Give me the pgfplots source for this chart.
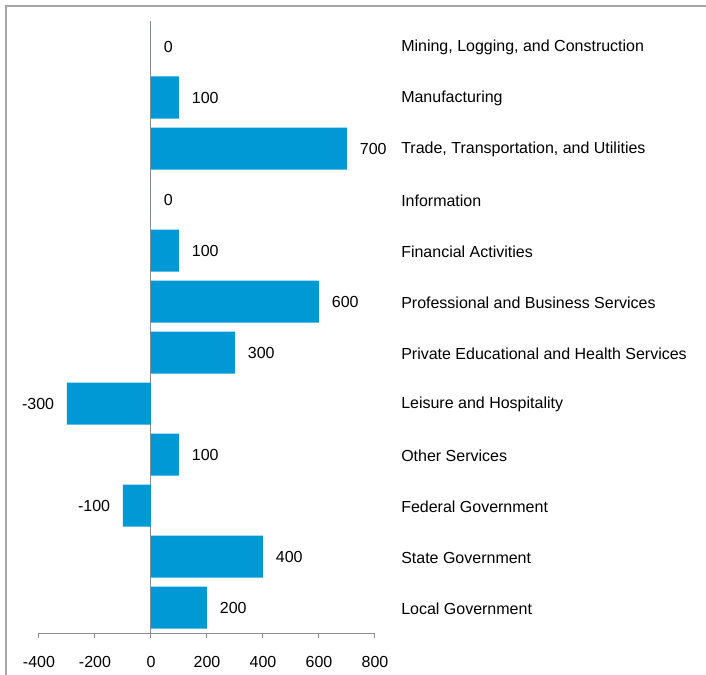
\documentclass[border=0pt]{standalone}
\usepackage{fontspec}
\setmainfont{Liberation Sans}
\usepackage{pgfplots}
\pgfplotsset{compat=1.18}
\definecolor{barblue}{RGB}{0,153,214}
\definecolor{axgray}{RGB}{140,140,140}
\definecolor{framegray}{RGB}{166,166,166}
\begin{document}
\begin{tikzpicture}
\useasboundingbox (0,0) rectangle (529.5pt,505.5pt);
\draw[framegray, line width=1.5pt] (4.5pt,-3pt) -- (4.5pt,501pt) -- (535pt,501pt);
\begin{axis}[
  at={(29.25pt,30.75pt)}, anchor=south west,
  scale only axis, width=252pt, height=459pt,
  xmin=-400, xmax=800, ymin=-0.5, ymax=11.5,
  y dir=reverse,
  xbar, bar width=31.5pt,
  axis x line*=bottom, axis y line*=right,
  y axis line style={draw=none},
  x axis line style={axgray, line width=0.75pt},
  xtick={-400,-200,...,800},
  ytick={0,...,11},
  yticklabels={{Mining, Logging, and Construction},Manufacturing,{Trade, Transportation, and Utilities},Information,Financial Activities,Professional and Business Services,Private Educational and Health Services,Leisure and Hospitality,Other Services,Federal Government,State Government,Local Government},
  ytick style={draw=none},
  xtick style={axgray, line width=0.75pt},
  tick align=outside, major tick length=3.75pt,
  extra x ticks={0}, extra x tick labels={},
  extra x tick style={grid=major, major grid style={axgray, line width=0.75pt}, tick style={draw=none}},
  /pgf/number format/assume math mode=true,
  every tick label/.append style={font=\fontsize{12}{14.4}\selectfont},
  xticklabel style={inner sep=0pt, yshift=-13.5pt},
  yticklabel style={anchor=west, inner sep=0pt, xshift=15.75pt, yshift=-1pt},
  point meta=x,
  nodes near coords, nodes near coords align=horizontal,
  every node near coord/.append style={font=\fontsize{12}{14.4}\selectfont, text=black, inner xsep=9.5pt, inner ysep=0pt},
  clip=false,
]
\addplot[draw=none, fill=barblue] coordinates {
(0,0) (100,1) (700,2) (0,3) (100,4) (600,5) (300,6) (-300,7) (100,8) (-100,9) (400,10) (200,11)
};
\end{axis}
\end{tikzpicture}
\end{document}
